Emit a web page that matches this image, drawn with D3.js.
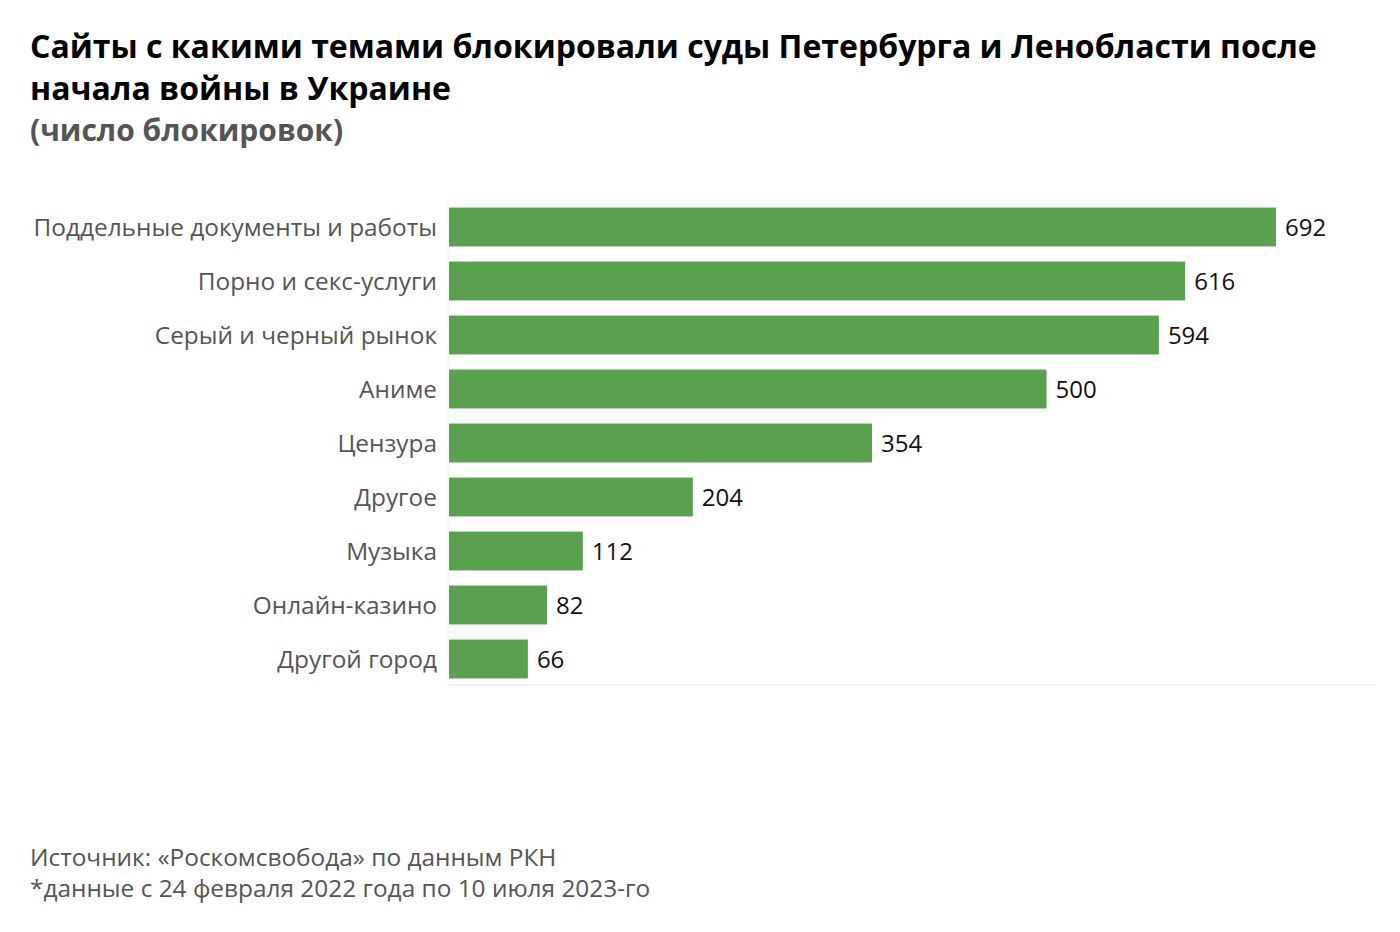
<!DOCTYPE html>
<html>
<head>
<meta charset="utf-8">
<script src="https://cdn.jsdelivr.net/npm/d3@7"></script>
<style>
  body { margin: 0; background: #fff; }
  text { font-family: "Open Sans", sans-serif; }
</style>
</head>
<body>
<div id="chart"></div>
<script>
var categories = ["Поддельные документы и работы", "Порно и секс-услуги", "Серый и черный рынок",
    "Аниме", "Цензура", "Другое", "Музыка", "Онлайн-казино", "Другой город"];
var values = [692, 616, 594, 500, 354, 204, 112, 82, 66];
var titleLines = ["Сайты с какими темами блокировали суды Петербурга и Ленобласти после",
    "начала войны в Украине"];
var subtitle = "(число блокировок)";
var notes = ["Источник: «Роскомсвобода» по данным РКН",
    "*данные с 24 февраля 2022 года по 10 июля 2023-го"];

var width = 1400, height = 932;
var plotLeft = 449, plotRight = 1376, plotTop = 200, plotBottom = 686;

var svg = d3.select("#chart").append("svg")
    .attr("width", width)
    .attr("height", height);

// titles
svg.selectAll(".title").data(titleLines).enter().append("text")
    .attr("class", "title")
    .attr("x", 30)
    .attr("y", function (d, i) { return 58 + i * 42; })
    .attr("font-size", 32)
    .attr("font-weight", 700)
    .attr("fill", "#000")
    .text(function (d) { return d; });

svg.append("text")
    .attr("x", 30)
    .attr("y", 141)
    .attr("font-size", 30)
    .attr("font-weight", 700)
    .attr("fill", "#555")
    .text(subtitle);

var x = d3.scaleLinear().domain([0, 692]).range([plotLeft, 1276]);
var y = d3.scaleBand().domain(categories).range([plotTop, plotBottom]).paddingInner(0.28).paddingOuter(0.14);

// axis lines
svg.append("line")
    .attr("x1", plotLeft - 1).attr("x2", plotLeft - 1)
    .attr("y1", plotTop).attr("y2", plotBottom)
    .attr("stroke", "#f4f4f4").attr("stroke-width", 1);
svg.append("line")
    .attr("x1", plotLeft).attr("x2", plotRight)
    .attr("y1", plotBottom - 1).attr("y2", plotBottom - 1)
    .attr("stroke", "#eeeeee").attr("stroke-width", 1.5);

var rows = svg.selectAll(".row").data(categories).enter().append("g")
    .attr("class", "row");

rows.append("rect")
    .attr("x", x(0))
    .attr("y", function (d) { return y(d); })
    .attr("width", function (d, i) { return x(values[i]) - x(0); })
    .attr("height", y.bandwidth())
    .attr("fill", "#59a14f");

rows.append("text")
    .attr("x", plotLeft - 12)
    .attr("y", function (d) { return y(d) + y.bandwidth() / 2; })
    .attr("dy", "0.38em")
    .attr("text-anchor", "end")
    .attr("font-size", 24.4)
    .attr("fill", "#555")
    .text(function (d) { return d; });

rows.append("text")
    .attr("x", function (d, i) { return x(values[i]) + 9; })
    .attr("y", function (d) { return y(d) + y.bandwidth() / 2; })
    .attr("dy", "0.38em")
    .attr("font-size", 24)
    .attr("fill", "#111")
    .text(function (d, i) { return values[i]; });

// footer notes
svg.selectAll(".note").data(notes).enter().append("text")
    .attr("class", "note")
    .attr("x", 30)
    .attr("y", function (d, i) { return 866 + i * 31; })
    .attr("font-size", 24.4)
    .attr("fill", "#555")
    .text(function (d) { return d; });
</script>
</body>
</html>
